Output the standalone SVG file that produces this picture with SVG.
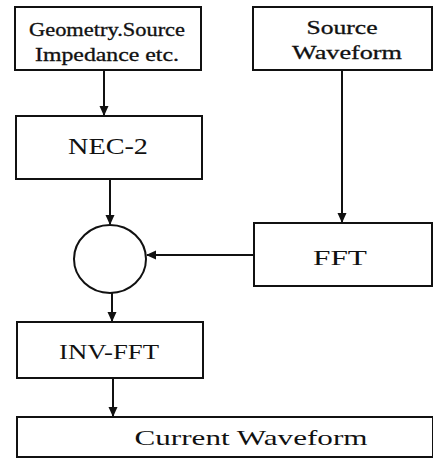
<svg xmlns="http://www.w3.org/2000/svg" width="433" height="460" viewBox="0 0 433 460">
<style>
.box{fill:#fff;stroke:#111;stroke-width:2}
.t{font-family:"Liberation Serif","DejaVu Serif",serif;fill:#111;text-anchor:middle}
.h{stroke:#111;stroke-width:0.3}
.c{stroke:#111;stroke-width:2;fill:none}
</style>
<defs>
<marker id="ah" markerWidth="10" markerHeight="10" refX="9" refY="5" orient="auto" markerUnits="userSpaceOnUse">
<path d="M0,0.5 L10,5 L0,9.5 Z" fill="#111"/>
</marker>
</defs>
<rect width="433" height="460" fill="#fff"/>
<g id="connectors">
<line class="c" x1="104" y1="70" x2="104" y2="115" marker-end="url(#ah)"/>
<line class="c" x1="110" y1="179" x2="110" y2="224" marker-end="url(#ah)"/>
<line class="c" x1="342" y1="70" x2="342" y2="222" marker-end="url(#ah)"/>
<line class="c" x1="254" y1="255" x2="147" y2="255" marker-end="url(#ah)"/>
<line class="c" x1="112" y1="293" x2="112" y2="321" marker-end="url(#ah)"/>
<line class="c" x1="113" y1="378" x2="113" y2="416" marker-end="url(#ah)"/>
</g>
<g id="geometry">
<rect class="box" x="15" y="7" width="186" height="63"/>
<text class="t h" x="107" y="36" font-size="18" textLength="156" lengthAdjust="spacingAndGlyphs">Geometry.Source</text>
<text class="t h" x="107" y="61" font-size="18" textLength="144" lengthAdjust="spacingAndGlyphs">Impedance etc.</text>
</g>
<g id="source">
<rect class="box" x="253" y="7" width="179" height="63"/>
<text class="t h" x="342" y="34" font-size="19" textLength="71" lengthAdjust="spacingAndGlyphs">Source</text>
<text class="t h" x="347" y="59" font-size="19" textLength="110" lengthAdjust="spacingAndGlyphs">Waveform</text>
</g>
<g id="nec2">
<rect class="box" x="16" y="116" width="186" height="63"/>
<text class="t" x="108" y="154" font-size="24" textLength="80" lengthAdjust="spacingAndGlyphs">NEC-2</text>
</g>
<g id="mixer">
<ellipse class="c" cx="110" cy="259" rx="36" ry="34"/>
</g>
<g id="fft">
<rect class="box" x="254" y="223" width="178" height="63"/>
<text class="t" x="340" y="265" font-size="22" textLength="54" lengthAdjust="spacingAndGlyphs">FFT</text>
</g>
<g id="invfft">
<rect class="box" x="17" y="322" width="186" height="56"/>
<text class="t" x="109" y="359" font-size="22" textLength="100" lengthAdjust="spacingAndGlyphs">INV-FFT</text>
</g>
<g id="current">
<rect class="box" x="17" y="417" width="416" height="40"/>
<text class="t" x="251" y="445" font-size="22" textLength="233" lengthAdjust="spacingAndGlyphs">Current Waveform</text>
</g>
</svg>
